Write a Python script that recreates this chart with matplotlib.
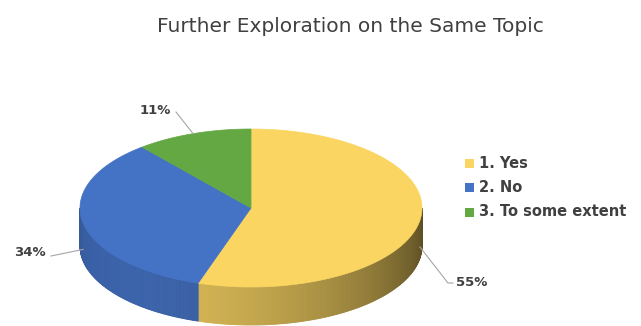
import numpy as np
import matplotlib.pyplot as plt
from matplotlib.patches import Polygon, Rectangle

labels = ["1. Yes", "2. No", "3. To some extent"]
values = [55, 34, 11]
colors = ["#FAD562", "#4472C4", "#64A843"]

# pie geometry in pixel units (y grows downward)
CX, CY = 251, 208
RX, RY = 171, 79
DEPTH = 38


def edge(t):
    t = np.radians(t)
    return CX + RX * np.sin(t), CY - RY * np.cos(t)


def shade(hex_color, k):
    rgb = np.array(plt.matplotlib.colors.to_rgb(hex_color))
    return tuple(np.clip(rgb * k, 0, 1))


def main():
    fig = plt.figure(figsize=(6.41, 3.26), dpi=100)
    ax = fig.add_axes([0, 0, 1, 1])
    ax.set_xlim(0, 641)
    ax.set_ylim(326, 0)
    ax.axis("off")

    total = sum(values)
    bounds = np.concatenate([[0], np.cumsum(values) / total * 360])

    # side walls, only on the front half of the ellipse
    for i, c in enumerate(colors):
        a0, a1 = max(bounds[i], 90), min(bounds[i + 1], 270)
        if a1 <= a0:
            continue
        ts = np.linspace(a0, a1, int(a1 - a0) * 2 + 2)
        for ta, tb in zip(ts[:-1], ts[1:]):
            xa, ya = edge(ta)
            xb, yb = edge(tb)
            k = 0.57 + 0.3 * np.cos(np.radians((ta + tb) / 2 - 225))
            poly = Polygon([(xa, ya), (xb, yb), (xb, yb + DEPTH), (xa, ya + DEPTH)],
                           closed=True, fc=shade(c, k), ec=shade(c, k), lw=0.6)
            ax.add_patch(poly)

    # top faces
    for i, c in enumerate(colors):
        ts = np.linspace(bounds[i], bounds[i + 1], 200)
        xs, ys = edge(ts)
        pts = [(CX, CY)] + list(zip(xs, ys))
        ax.add_patch(Polygon(pts, closed=True, fc=c, ec=c, lw=0.5))

    # percentage labels with leader lines
    lab_pos = [(472, 283), (30, 253), (155, 110)]
    for i in range(len(values)):
        mid = (bounds[i] + bounds[i + 1]) / 2
        x0, y0 = edge(mid)
        if 90 < mid < 270:
            y0 += DEPTH * 0.7
        lx, ly = lab_pos[i]
        if i == 0:
            line = [(x0, y0), (lx - 24, ly), (lx - 19, ly)]
        elif i == 1:
            line = [(x0, y0), (lx + 21, ly + 3)]
        else:
            line = [(x0, y0), (lx + 21, ly + 2)]
        xs, ys = zip(*line)
        ax.plot(xs, ys, color="#A6A6A6", lw=0.8)
        ax.text(lx, ly, f"{values[i]}%", ha="center", va="center",
                fontsize=9.5, fontweight="bold", color="#404040")

    # legend
    for i, (lab, c) in enumerate(zip(labels, colors)):
        y = 163 + i * 24.5
        ax.add_patch(Rectangle((465, y - 4.5), 9, 9, fc=c, ec="none"))
        ax.text(479, y, lab, ha="left", va="center", fontsize=10.5,
                fontweight="bold", color="#404040")

    ax.text(350, 26, "Further Exploration on the Same Topic", ha="center",
            va="center", fontsize=14.5, color="#404040")

    fig.savefig("out.png", dpi=100)


if __name__ == "__main__":
    main()
